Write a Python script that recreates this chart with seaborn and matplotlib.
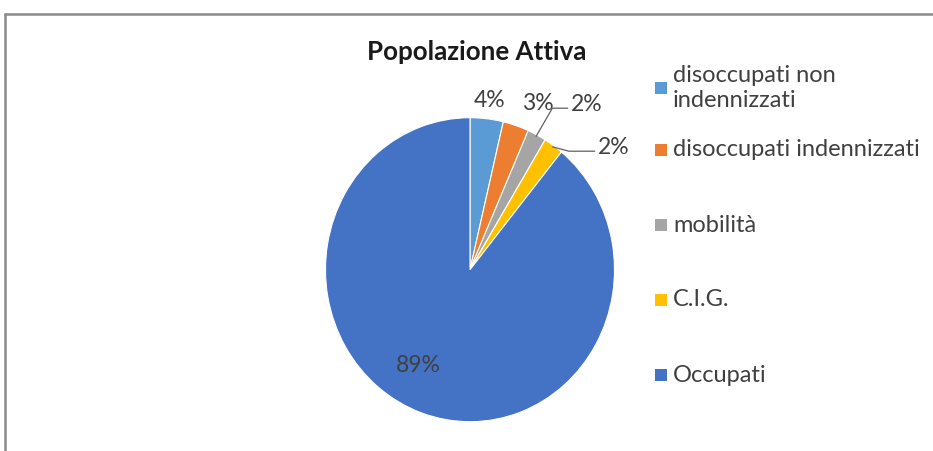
import matplotlib
matplotlib.use("Agg")
import matplotlib.pyplot as plt
import seaborn as sns
import numpy as np
from matplotlib.patches import Rectangle
from matplotlib.lines import Line2D

sns.set_theme(style="white")
plt.rcParams['font.family'] = ['Lato', 'DejaVu Sans']

categories = ["disoccupati non\nindennizzati", "disoccupati indennizzati", "mobilità", "C.I.G.", "Occupati"]
values = [3.7, 2.9, 2.1, 2.2, 89.1]
colors = ["#5B9BD5", "#ED7D31", "#A5A5A5", "#FFC000", "#4472C4"]
title = "Popolazione Attiva"

W, H = 933, 451
fig = plt.figure(figsize=(W / 100, H / 100), dpi=100)
fig.patch.set_facecolor("white")

# pie geometry in pixels (reference is slightly stretched vertically)
cx, cy, Rx, Ry = 470, 269.7, 144.5, 152
span = 1.5
ax = fig.add_axes([(cx - span * Rx) / W, ((H - cy) - span * Ry) / H,
                   2 * span * Rx / W, 2 * span * Ry / H])

wedges, _ = ax.pie(values, colors=colors, startangle=90, counterclock=False,
                   radius=1.0, wedgeprops=dict(linewidth=0.8, edgecolor="white"))
ax.set_xlim(-span, span)
ax.set_ylim(-span, span)
ax.set_aspect("auto")
ax.axis("off")

pct = [f"{round(v):.0f}%" for v in values]
txtc = "#404040"
fs = 16.5

def px2d(x, y):
    return ((x - cx) / Rx, (cy - y) / Ry)

def edge_point(i, r=1.0):
    w = wedges[i]
    a = np.deg2rad((w.theta1 + w.theta2) / 2)
    return (r * np.cos(a), r * np.sin(a))

# plain labels
for i, (x, y) in [(0, (490, 100)), (1, (538, 103)), (4, (418, 366))]:
    ax.text(*px2d(x, y), pct[i], ha="center", va="center", fontsize=fs, color=txtc)

# leader-line labels
ax.annotate(pct[2], xy=edge_point(2, 0.99), xytext=px2d(571, 104),
            ha="left", va="center", fontsize=fs, color=txtc,
            arrowprops=dict(arrowstyle="-", color="#606060", lw=0.9,
                            shrinkA=0, shrinkB=0, relpos=(0, 0.3),
                            connectionstyle="angle,angleA=0,angleB=60,rad=0"))
ax.annotate(pct[3], xy=edge_point(3, 0.99), xytext=px2d(598, 147),
            ha="left", va="center", fontsize=fs, color=txtc,
            arrowprops=dict(arrowstyle="-", color="#606060", lw=0.9,
                            shrinkA=0, shrinkB=0, relpos=(0, 0.3),
                            connectionstyle="angle,angleA=0,angleB=-15,rad=0"))

# title
fig.text(477 / W, 1 - 52 / H, title, ha="center", va="center",
         fontsize=18.6, fontweight="bold", color="#1a1a1a")

# legend (manual)
leg_y = [88, 150, 225, 300, 375]
for lab, col, y in zip(categories, colors, leg_y):
    fig.patches.append(Rectangle((655 / W, 1 - (y + 6) / H), 12 / W, 12 / H,
                                 transform=fig.transFigure, facecolor=col,
                                 edgecolor="none"))
    fig.text(673 / W, 1 - y / H, lab, ha="left", va="center", fontsize=17,
             color=txtc, linespacing=1.22)

# chart border (top and left visible)
fig.add_artist(Line2D([5 / W, 1.0], [1 - 14 / H, 1 - 14 / H], transform=fig.transFigure,
                      color="#8a8a8a", lw=1.8))
fig.add_artist(Line2D([5 / W, 5 / W], [0, 1 - 14 / H], transform=fig.transFigure,
                      color="#8a8a8a", lw=1.8))

fig.savefig("out.png", dpi=100)
